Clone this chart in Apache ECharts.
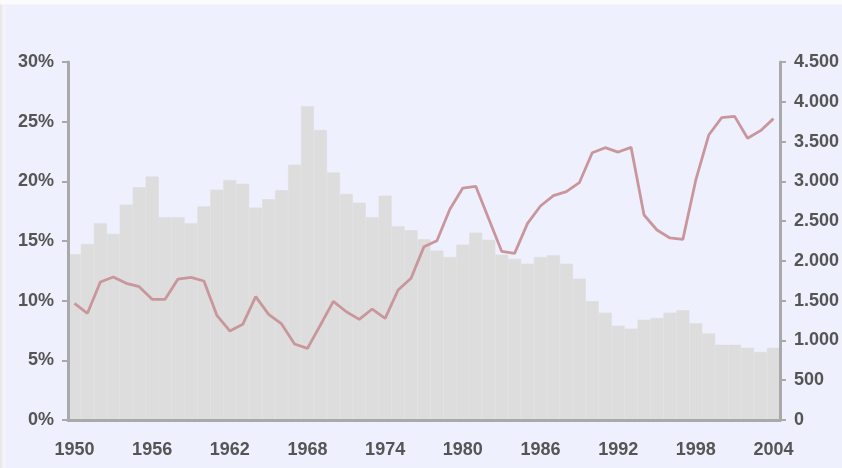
<!DOCTYPE html>
<html>
<head>
<meta charset="utf-8">
<script src="https://cdn.jsdelivr.net/npm/echarts@6/dist/echarts.min.js"></script>
<style>
  html, body { margin: 0; padding: 0; }
  #main {
    width: 842px; height: 468px;
    background:
      linear-gradient(to bottom, #fbfbfd 0, #fbfbfd 4px, rgba(0,0,0,0) 5px),
      linear-gradient(to right, #e4e4e6 0, #f6f6f8 4px, #eef0fd 6px);
  }
</style>
</head>
<body>
<div id="main"></div>
<script>
const years = [];
for (let y = 1950; y <= 2004; y++) years.push(String(y));

// share (%) - grey bars, left axis
const shareValues = [
  13.9, 14.75, 16.5, 15.6, 18.05, 19.5, 20.4, 17.0, 17.0, 16.5,
  17.9, 19.3, 20.1, 19.8, 17.8, 18.5, 19.25, 21.4, 26.3, 24.3,
  20.75, 18.95, 18.2, 17.0, 18.8, 16.25, 15.9, 15.15, 14.2, 13.65,
  14.7, 15.7, 15.1, 13.85, 13.5, 13.1, 13.65, 13.8, 13.1, 11.85,
  9.95, 9.0, 7.9, 7.65, 8.4, 8.55, 9.0, 9.2, 8.1, 7.25,
  6.3, 6.3, 6.05, 5.7, 6.05
];

// volume - line, right axis
const volumeValues = [
  1467, 1341, 1735, 1797, 1718, 1676, 1517, 1517, 1772, 1793,
  1747, 1316, 1119, 1203, 1550, 1328, 1207, 955, 901, 1194,
  1492, 1361, 1265, 1395, 1278, 1634, 1781, 2179, 2254, 2648,
  2916, 2937, 2530, 2120, 2095, 2472, 2690, 2820, 2870, 2983,
  3360, 3423, 3368, 3427, 2577, 2388, 2288, 2271, 3017, 3582,
  3800, 3817, 3541, 3637, 3788
];

const leftTicks = [0, 5, 10, 15, 20, 25, 30];
const rightTicks = [0, 500, 1000, 1500, 2000, 2500, 3000, 3500, 4000, 4500];

const labelStyle = {
  color: '#555555',
  fontFamily: 'Liberation Sans, Arial, sans-serif',
  fontWeight: 'bold',
  fontSize: 18
};
const axisGrey = '#a9a9a9';
const barGrey = '#dddddd';

const chart = echarts.init(document.getElementById('main'), null, { renderer: 'canvas' });

chart.setOption({
  backgroundColor: 'transparent',
  animation: false,
  grid: { left: 68, right: 59, top: 62, bottom: 48, containLabel: false },
  xAxis: {
    type: 'category',
    data: years,
    boundaryGap: true,
    z: 5,
    axisLine: { lineStyle: { color: axisGrey, width: 3 } },
    axisTick: { show: false },
    axisLabel: Object.assign({ interval: 5, margin: 21 }, labelStyle)
  },
  yAxis: [
    {
      type: 'value',
      min: leftTicks[0],
      max: leftTicks[leftTicks.length - 1],
      interval: 5,
      position: 'left',
      z: 5,
      splitLine: { show: false },
      axisLine: { show: true, lineStyle: { color: axisGrey, width: 3 } },
      axisTick: { show: true, length: 6, lineStyle: { color: axisGrey, width: 2 } },
      axisLabel: Object.assign({ margin: 14, formatter: v => v + '%' }, labelStyle)
    },
    {
      type: 'value',
      min: rightTicks[0],
      max: rightTicks[rightTicks.length - 1],
      interval: 500,
      position: 'right',
      z: 5,
      splitLine: { show: false },
      axisLine: { show: true, lineStyle: { color: axisGrey, width: 3 } },
      axisTick: { show: true, length: 6, lineStyle: { color: axisGrey, width: 2 } },
      axisLabel: Object.assign({
        margin: 14,
        formatter: v => String(v).replace(/\B(?=(\d{3})+(?!\d))/g, '.')
      }, labelStyle)
    }
  ],
  series: [
    {
      name: 'share',
      type: 'bar',
      yAxisIndex: 0,
      data: shareValues,
      barCategoryGap: 0,
      // thin border in the same grey hides the seams between bars
      itemStyle: { color: barGrey, borderColor: barGrey, borderWidth: 0.6 },
      silent: true
    },
    {
      name: 'volume',
      type: 'line',
      yAxisIndex: 1,
      data: volumeValues,
      showSymbol: false,
      lineStyle: { color: '#c9979b', width: 2.8 },
      z: 3
    }
  ]
});
</script>
</body>
</html>
